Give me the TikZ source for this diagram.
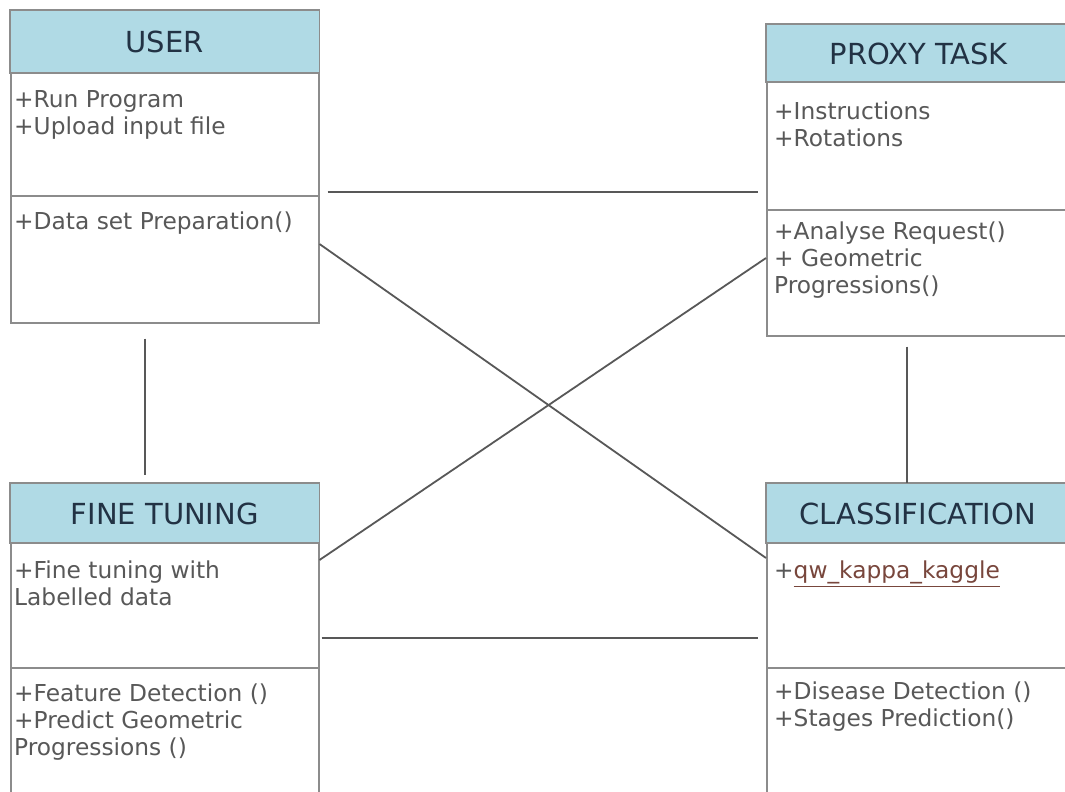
\documentclass[tikz,border=0pt]{standalone}
\usepackage{fontspec}
\setmainfont{DejaVu Sans}
\usetikzlibrary{calc}
\definecolor{hdrblue}{RGB}{176,218,229}
\definecolor{bordergray}{RGB}{140,140,140}
\definecolor{hdrtextcol}{RGB}{34,50,68}
\definecolor{bodygray}{RGB}{88,88,88}
\definecolor{conngray}{RGB}{88,88,88}
\definecolor{qwcol}{RGB}{120,70,60}
\tikzset{
  classbox/.style={draw=bordergray, line width=1.5pt, fill=white, anchor=north west, inner sep=0pt},
  hdrfill/.style={fill=hdrblue, draw=bordergray, line width=1.5pt},
  divider/.style={draw=bordergray, line width=1.5pt},
  hdrtext/.style={font=\fontsize{29}{32}\selectfont, text=hdrtextcol, anchor=center, inner sep=0pt},
  bodytext/.style={font=\fontsize{23.3}{27}\selectfont, text=bodygray, align=left, anchor=north west, inner sep=0pt},
  conn/.style={draw=conngray, line width=1.8pt},
}
\begin{document}
\begin{tikzpicture}[x=1pt,y=-1pt]
\useasboundingbox (0,0) rectangle (1065,792);
\clip (0,0) rectangle (1065,792);
\fill[white] (0,0) rectangle (1065,792);

% USER
\node[classbox, minimum width=308pt, minimum height=312pt] (user) at (10,10) {};
\draw[hdrfill] (user.north west) rectangle ($(user.north east)+(0,63)$);
\draw[divider] ($(user.north west)+(0,186)$) -- ($(user.north east)+(0,186)$);
\node[hdrtext] (userh) at ($(user.north)+(0,32)$) {USER};
\node[bodytext] (usera) at ($(user.north west)+(4,80)$) {+Run Program\\+Upload input file};
\node[bodytext] (usero) at ($(user.north west)+(4,202)$) {+Data set Preparation()};

% PROXY TASK
\node[classbox, minimum width=310pt, minimum height=311pt] (proxy) at (766,24) {};
\draw[hdrfill] (proxy.north west) rectangle ($(proxy.north east)+(0,58)$);
\draw[divider] ($(proxy.north west)+(0,186)$) -- ($(proxy.north east)+(0,186)$);
\node[hdrtext] (proxyh) at ($(proxy.north)+(-3,30)$) {PROXY TASK};
\node[bodytext] (proxya) at ($(proxy.north west)+(8,78)$) {+Instructions\\+Rotations};
\node[bodytext] (proxyo) at ($(proxy.north west)+(8,198)$) {+Analyse Request()\\+ Geometric\\Progressions()};

% FINE TUNING
\node[classbox, minimum width=308pt, minimum height=330pt] (fine) at (10,483) {};
\draw[hdrfill] (fine.north west) rectangle ($(fine.north east)+(0,60)$);
\draw[divider] ($(fine.north west)+(0,185)$) -- ($(fine.north east)+(0,185)$);
\node[hdrtext] (fineh) at ($(fine.north)+(0,31)$) {FINE TUNING};
\node[bodytext] (finea) at ($(fine.north west)+(4,78)$) {+Fine tuning with\\Labelled data};
\node[bodytext] (fineo) at ($(fine.north west)+(4,201)$) {+Feature Detection ()\\+Predict Geometric\\Progressions ()};

% CLASSIFICATION
\node[classbox, minimum width=310pt, minimum height=330pt] (class) at (766,483) {};
\draw[hdrfill] (class.north west) rectangle ($(class.north east)+(0,60)$);
\draw[divider] ($(class.north west)+(0,185)$) -- ($(class.north east)+(0,185)$);
\node[hdrtext] (classh) at ($(class.north)+(-4,31)$) {CLASSIFICATION};
\node[bodytext] (classa) at ($(class.north west)+(8,78)$) {+\textcolor{qwcol}{\underline{qw\_kappa\_kaggle}}};
\node[bodytext] (classo) at ($(class.north west)+(8,199)$) {+Disease Detection ()\\+Stages Prediction()};

% connectors
\draw[conn] ($(user.north east)+(8,182)$) -- ($(proxy.north west)+(-8,168)$);
\draw[conn] ($(user.north east)+(0,234)$) -- ($(class.north west)+(0,75)$);
\draw[conn] ($(fine.north east)+(0,77)$) -- ($(proxy.north west)+(0,234)$);
\draw[conn] ($(fine.north east)+(2,155)$) -- ($(class.north west)+(-8,155)$);
\draw[conn] ($(user.south west)+(135,15)$) -- ($(fine.north west)+(135,-8)$);
\draw[conn] ($(proxy.south west)+(141,10)$) -- ($(class.north west)+(141,0)$);
\end{tikzpicture}
\end{document}
